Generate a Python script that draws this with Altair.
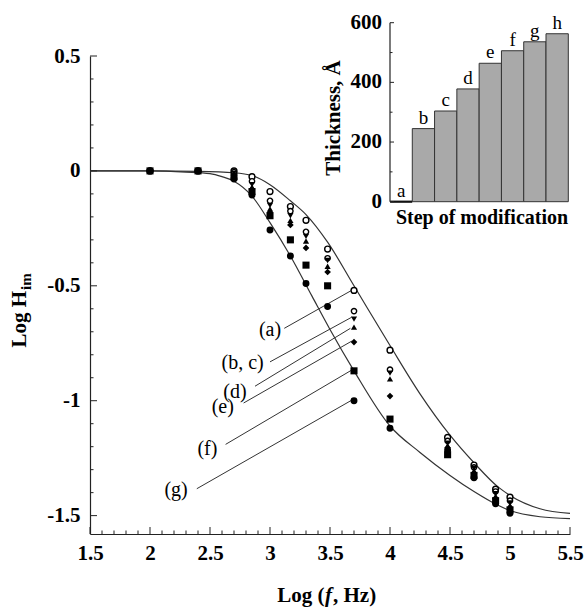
import altair as alt
import pandas as pd

# ---------------- main plot data ----------------
FREQ_LOG = [2.0, 2.4, 2.7, 2.85, 3.0, 3.17, 3.3, 3.48, 3.7, 4.0, 4.48, 4.7, 4.88, 5.0]
SER_A = [0, 0, 0.0, -0.025, -0.09, -0.155, -0.215, -0.34, -0.52, -0.78, -1.16, -1.28, -1.385, -1.42]
SER_B = [0, 0, -0.005, -0.045, -0.13, -0.175, -0.265, -0.38, -0.61, -0.865, -1.175, -1.29, -1.395, -1.435]
SER_C = [0, 0, -0.01, -0.06, -0.15, -0.195, -0.285, -0.39, -0.645, -0.88, -1.185, -1.295, -1.405, -1.445]
SER_D = [0, 0, -0.015, -0.07, -0.165, -0.215, -0.305, -0.415, -0.68, -0.905, -1.195, -1.305, -1.415, -1.455]
SER_E = [0, 0, -0.02, -0.08, -0.18, -0.235, -0.335, -0.44, -0.745, -0.98, -1.205, -1.315, -1.425, -1.465]
SER_F = [0, 0, -0.025, -0.09, -0.195, -0.30, -0.41, -0.50, -0.87, -1.08, -1.235, -1.325, -1.435, -1.475]
SER_G = [0, 0, -0.035, -0.105, -0.257, -0.37, -0.49, -0.59, -1.0, -1.12, -1.215, -1.335, -1.448, -1.49]

CURVE_UP_X = [1.5, 2.0, 2.4, 2.7, 2.85, 3.0, 3.17, 3.3, 3.48, 3.7, 4.0, 4.25, 4.5, 4.7, 4.9, 5.0, 5.25, 5.5]
CURVE_UP_Y = [0, 0, -0.002, -0.008, -0.02, -0.06, -0.13, -0.19, -0.31, -0.50, -0.76, -0.97, -1.15, -1.27, -1.375, -1.412, -1.47, -1.49]
CURVE_LO_X = [1.5, 2.0, 2.3, 2.5, 2.6, 2.7, 2.85, 3.0, 3.17, 3.35, 3.5, 3.7, 4.0, 4.25, 4.5, 4.7, 4.9, 5.0, 5.25, 5.5]
CURVE_LO_Y = [0, 0, -0.005, -0.012, -0.025, -0.045, -0.11, -0.225, -0.37, -0.545, -0.69, -0.87, -1.11, -1.225, -1.325, -1.395, -1.455, -1.478, -1.505, -1.513]

LABELS = ["(a)", "(b, c)", "(d)", "(e)", "(f)", "(g)"]
LABEL_X = [3.0, 2.772, 2.708, 2.606, 2.478, 2.217]
LABEL_Y = [-0.693, -0.838, -0.962, -1.027, -1.208, -1.390]
LINE_X1 = [3.119, 3.0, 2.875, 2.78, 2.63, 2.39]
LINE_Y1 = [-0.685, -0.831, -0.937, -1.01, -1.19, -1.383]
LINE_X2 = [3.68, 3.68, 3.67, 3.68, 3.68, 3.68]
LINE_Y2 = [-0.52, -0.637, -0.685, -0.741, -0.867, -0.998]

X_MAJOR = [1.5, 2.0, 2.5, 3.0, 3.5, 4.0, 4.5, 5.0, 5.5]
X_MINOR = [1.6, 1.7, 1.8, 1.9, 2.1, 2.2, 2.3, 2.4, 2.6, 2.7, 2.8, 2.9, 3.1, 3.2, 3.3, 3.4,
           3.6, 3.7, 3.8, 3.9, 4.1, 4.2, 4.3, 4.4, 4.6, 4.7, 4.8, 4.9, 5.1, 5.2, 5.3, 5.4]
Y_MAJOR = [-1.5, -1.0, -0.5, 0.0, 0.5]
Y_MINOR = [-1.4, -1.3, -1.2, -1.1, -0.9, -0.8, -0.7, -0.6, -0.4, -0.3, -0.2, -0.1,
           0.1, 0.2, 0.3, 0.4]

# ---------------- inset data ----------------
STEPS = ["a", "b", "c", "d", "e", "f", "g", "h"]
THICKNESS = [0, 245, 304, 378, 464, 506, 536, 563]
INSET_MAJOR = [0, 200, 400, 600]
INSET_MINOR = [100, 300, 500]

FONT = "Liberation Serif"
INK = "#222222"

xs = alt.Scale(domain=[1.5, 5.5], nice=False, zero=False)
ys = alt.Scale(domain=[-1.58, 0.5], nice=False, zero=False)
xaxis = alt.Axis(values=X_MAJOR, labelExpr="toString(datum.value)", ticks=False, tickSize=0,
                 grid=False, labelFont=FONT, labelFontSize=21, labelFontWeight="bold",
                 labelColor="black", labelPadding=8, domainColor=INK, domainWidth=1.2,
                 title=None, labelFlush=False)
yaxis = alt.Axis(values=Y_MAJOR, labelExpr="toString(datum.value)", ticks=False, tickSize=0,
                 grid=False, labelFont=FONT, labelFontSize=21, labelFontWeight="bold",
                 labelColor="black", labelPadding=10, domainColor=INK, domainWidth=1.2,
                 title=None, labelFlush=False)


def X(field):
    return alt.X(field, type="quantitative", scale=xs, axis=xaxis)


def Y(field):
    return alt.Y(field, type="quantitative", scale=ys, axis=yaxis)


curve_df = pd.concat([
    pd.DataFrame({"x": CURVE_UP_X, "y": CURVE_UP_Y, "curve": "upper"}),
    pd.DataFrame({"x": CURVE_LO_X, "y": CURVE_LO_Y, "curve": "lower"}),
])
curves = alt.Chart(curve_df).mark_line(interpolate="monotone", color="#333333", strokeWidth=1.2).encode(
    x=X("x"), y=Y("y"), detail="curve:N")

series = [
    ("a", SER_A, "circle", False, 34),
    ("b", SER_B, "circle", False, 28),
    ("c", SER_C, "triangle-down", True, 38),
    ("d", SER_D, "triangle-up", True, 38),
    ("e", SER_E, "diamond", True, 44),
    ("g", SER_G, "circle", True, 48),
    ("f", SER_F, "square", True, 50),
]
point_layers = []
for name, vals, shape, filled, size in series:
    df = pd.DataFrame({"x": FREQ_LOG, "y": vals})
    if filled:
        mk = alt.Chart(df).mark_point(shape=shape, filled=True, size=size, color="black", opacity=1)
    else:
        mk = alt.Chart(df).mark_point(shape=shape, filled=False, size=size, color="black",
                                      strokeWidth=1.4, fill="white", opacity=1)
    point_layers.append(mk.encode(x=X("x"), y=Y("y")))

lines_df = pd.DataFrame({"x1": LINE_X1, "y1": LINE_Y1, "x2": LINE_X2, "y2": LINE_Y2})
label_lines = alt.Chart(lines_df).mark_rule(color="#333333", strokeWidth=1).encode(
    x=X("x1"), y=Y("y1"), x2="x2", y2="y2")

labels_df = pd.DataFrame({"x": LABEL_X, "y": LABEL_Y, "t": LABELS})
labels = alt.Chart(labels_df).mark_text(font=FONT, fontSize=20, color="black", align="center",
                                        baseline="middle").encode(x=X("x"), y=Y("y"), text="t:N")

xt_major = alt.Chart(pd.DataFrame({"v": X_MAJOR})).mark_rule(color=INK, strokeWidth=1).encode(
    x=X("v"), y=alt.value(478), y2=alt.value(471))
xt_minor = alt.Chart(pd.DataFrame({"v": X_MINOR})).mark_rule(color=INK, strokeWidth=1).encode(
    x=X("v"), y=alt.value(478), y2=alt.value(474.5))
yt_major = alt.Chart(pd.DataFrame({"v": Y_MAJOR})).mark_rule(color=INK, strokeWidth=1).encode(
    y=Y("v"), x=alt.value(0), x2=alt.value(7))
yt_minor = alt.Chart(pd.DataFrame({"v": Y_MINOR})).mark_rule(color=INK, strokeWidth=1).encode(
    y=Y("v"), x=alt.value(0), x2=alt.value(3.5))

one = pd.DataFrame({"k": [0]})
xt1 = alt.Chart(one).mark_text(text="Log (", font=FONT, fontSize=21, fontWeight="bold", align="right",
                               baseline="alphabetic", color="black").encode(x=alt.value(234.5), y=alt.value(546))
xt2 = alt.Chart(one).mark_text(text="f", font=FONT, fontSize=21, fontWeight="bold", fontStyle="italic",
                               align="left", baseline="alphabetic", color="black").encode(x=alt.value(235), y=alt.value(546))
xt3 = alt.Chart(one).mark_text(text=", Hz)", font=FONT, fontSize=21, fontWeight="bold", align="left",
                               baseline="alphabetic", color="black").encode(x=alt.value(243), y=alt.value(546))
yt1 = alt.Chart(one).mark_text(text="Log H", font=FONT, fontSize=21, fontWeight="bold", align="right",
                               baseline="middle", angle=270, color="black").encode(x=alt.value(-70), y=alt.value(235))
yt2 = alt.Chart(one).mark_text(text="im", font=FONT, fontSize=15, fontWeight="bold", align="left",
                               baseline="middle", angle=270, dy=6, dx=1, color="black").encode(x=alt.value(-70), y=alt.value(235))

main = alt.layer(curves, label_lines, labels, *point_layers, xt_major, xt_minor, yt_major, yt_minor,
                 xt1, xt2, xt3, yt1, yt2)

# ---------------- inset ----------------
ixs = alt.Scale(domain=STEPS, range=[300, 478.3], paddingInner=0, paddingOuter=0)
iys = alt.Scale(domain=[0, 600], range=[145.7, -33.3], nice=False, zero=False)

bar_df = pd.DataFrame({"step": STEPS, "thickness": THICKNESS})
bars = alt.Chart(bar_df).mark_bar(color="#a9a9a9", stroke="#333333", strokeWidth=1).encode(
    x=alt.X("step:N", scale=ixs, axis=None, sort=None),
    y=alt.Y("thickness:Q", scale=iys, axis=None))
zero_bar = alt.Chart(bar_df[bar_df.thickness == 0]).mark_tick(color="black", thickness=2.5, size=22,
                                                              orient="horizontal").encode(
    x=alt.X("step:N", scale=ixs, axis=None, sort=None),
    y=alt.Y("thickness:Q", scale=iys, axis=None))
letters = alt.Chart(bar_df).mark_text(font=FONT, fontSize=19, color="black", baseline="alphabetic",
                                      dy=-5).encode(
    x=alt.X("step:N", scale=ixs, axis=None, sort=None),
    y=alt.Y("thickness:Q", scale=iys, axis=None), text="step:N")
it_major = alt.Chart(pd.DataFrame({"v": INSET_MAJOR})).mark_rule(color=INK, strokeWidth=1).encode(
    y=alt.Y("v:Q", scale=iys, axis=None), x=alt.value(300), x2=alt.value(304))
it_minor = alt.Chart(pd.DataFrame({"v": INSET_MINOR})).mark_rule(color=INK, strokeWidth=1).encode(
    y=alt.Y("v:Q", scale=iys, axis=None), x=alt.value(300), x2=alt.value(302.5))
it_domain = alt.Chart(pd.DataFrame({"lo": [0], "hi": [600]})).mark_rule(color=INK, strokeWidth=1.2).encode(
    y=alt.Y("lo:Q", scale=iys, axis=None), y2="hi:Q", x=alt.value(300))
it_labels = alt.Chart(pd.DataFrame({"v": INSET_MAJOR})).mark_text(
    font=FONT, fontSize=21, fontWeight="bold", align="right", baseline="middle", color="black").encode(
    y=alt.Y("v:Q", scale=iys, axis=None), x=alt.value(292), text="v:Q")
ititle_x = alt.Chart(one).mark_text(text="Step of modification", font=FONT, fontSize=20, fontWeight="bold",
                                    align="center", baseline="middle", color="black").encode(
    x=alt.value(392), y=alt.value(162))
ititle_y = alt.Chart(one).mark_text(text="Thickness, Å", font=FONT, fontSize=21, fontWeight="bold",
                                    align="center", baseline="middle", angle=270, color="black").encode(
    x=alt.value(244), y=alt.value(62))

inset = alt.layer(bars, zero_bar, letters, it_major, it_minor, it_domain, it_labels)

chart = alt.layer(main, inset, ititle_x, ititle_y).resolve_scale(
    x="independent", y="independent").properties(
    width=480, height=478,
    autosize=alt.AutoSizeParams(type="none"),
    padding={"left": 90, "top": 56, "right": 18, "bottom": 76},
    background="white",
).configure_view(stroke=None)

chart.save("out.html", embed_options={"renderer": "svg", "actions": False})
